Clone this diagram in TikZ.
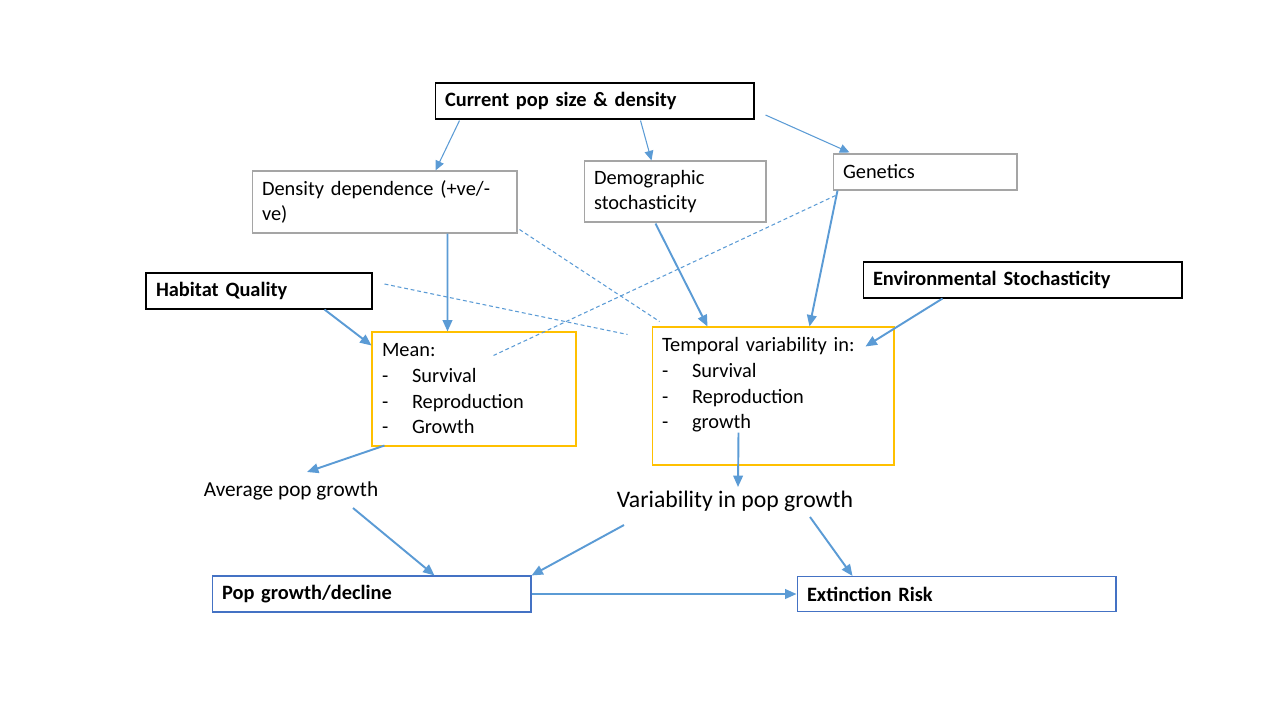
\documentclass[tikz,border=0pt]{standalone}
\usepackage{fontspec}
\setmainfont{Carlito}
\usetikzlibrary{arrows.meta, calc}
\definecolor{linkblue}{HTML}{5B9BD5}
\definecolor{boxgray}{HTML}{A5A5A5}
\definecolor{boxgold}{HTML}{FFC000}
\definecolor{boxblue}{HTML}{4472C4}

\begin{document}
\begin{tikzpicture}[x=0.02cm, y=-0.02cm]
      \tikzstyle{box}=[draw, rectangle, inner xsep=0.2cm, inner ysep=0pt, align=left, line width=0.6pt, font=\fontsize{11.6}{14.6}\selectfont]
      \tikzstyle{keybox}=[box, draw=black, font=\fontsize{11.6}{14.6}\selectfont\bfseries]
      \tikzstyle{factor}=[box, draw=boxgray]
      \tikzstyle{vital}=[box, draw=boxgold]
      \tikzstyle{result}=[keybox, draw=boxblue]
      \tikzstyle{outcome}=[inner sep=1pt]
      \tikzstyle{link}=[draw=linkblue, line width=0.6pt, -{Triangle[length=5.5pt, width=5pt]}]
      \tikzstyle{mainlink}=[draw=linkblue, line width=1.1pt, -{Triangle[length=6.5pt, width=5.5pt]}]
      \tikzstyle{weak}=[draw=linkblue, line width=0.6pt, dash pattern=on 2.2pt off 1.6pt]
      \newcommand{\bul}[1]{\makebox[0.6cm][l]{-}#1}

      \useasboundingbox (0,0) rectangle (1280,720);

      % top level drivers
      \node[keybox, text width=5.98cm, minimum height=0.72cm] (cur) at (594.5,101) {Current pop size \& density};
      \node[keybox, text width=4.12cm, minimum height=0.72cm] (hab) at (259,291) {Habitat Quality};
      \node[keybox, text width=5.98cm, minimum height=0.72cm] (env) at (1022.5,280) {Environmental Stochasticity};

      % second level
      \node[factor, text width=4.9cm, minimum height=1.24cm] (dens) at (384.5,202) {Density dependence (+ve/-\\ve)};
      \node[factor, text width=3.24cm, minimum height=1.22cm] (demo) at (675,191.5) {Demographic\\stochasticity};
      \node[factor, text width=3.28cm, minimum height=0.72cm] (gen) at (925,172) {Genetics};

      % vital rates
      \node[vital, text width=3.68cm, minimum height=2.28cm] (mean) at (474,389)
        {Mean:\\\bul{Survival}\\\bul{Reproduction}\\\bul{Growth}};
      \node[vital, text width=4.44cm, minimum height=2.76cm] (temp) at (773,396)
        {Temporal variability in:\\\bul{Survival}\\\bul{Reproduction}\\\bul{growth}\\\mbox{}};

      \node[outcome, font=\fontsize{12.1}{14.6}\selectfont] (avg) at (291,491) {Average pop growth};
      \node[outcome, font=\fontsize{13.5}{16}\selectfont] (var) at (735,501) {Variability in pop growth};

      % results
      \node[result, text width=5.98cm, minimum height=0.72cm] (popg) at (371.5,594) {Pop growth/decline};
      \node[result, text width=5.98cm, minimum height=0.70cm] (ext) at (956.5,594) {Extinction Risk};

      % from current pop size
      \draw[link] ($(cur.south west)+(25,1)$) -- ($(dens.north west)+(184,0)$);
      \draw[link] ($(cur.south west)+(206,1)$) -- ($(demo.north west)+(68,0)$);
      \draw[link] ($(cur.east)+(11,14)$) -- ($(gen.north west)+(17,-1)$);

      % into vital rates
      \draw[mainlink] ($(dens.south west)+(196,0)$) -- ($(mean.north west)+(76,0)$);
      \draw[mainlink] ($(demo.south west)+(72,1)$) -- ($(temp.north west)+(56,0)$);
      \draw[mainlink] ($(gen.south west)+(5,0)$) -- ($(temp.north west)+(158,0)$);
      \draw[mainlink] ($(hab.south west)+(179,0)$) -- ($(mean.north west)+(0,14)$);
      \draw[mainlink] ($(env.south west)+(80,0)$) -- ($(temp.north west)+(214,20)$);

      % weak links
      \draw[weak] ($(dens.south east)+(2,-4)$) -- ($(temp.north west)+(8,-5)$);
      \draw[weak] ($(hab.east)+(12,-7)$) -- ($(temp.north west)+(-24,8)$);
      \draw[weak] ($(gen.south west)+(3,5)$) -- ($(mean.north west)+(122,24)$);

      % growth
      \draw[mainlink] ($(mean.south west)+(13,-1)$) -- ($(avg.center)+(16,-19)$);
      \draw[mainlink] ($(temp.south west)+(87,-33)$) -- ($(var.center)+(3,-14)$);
      \draw[mainlink] ($(avg.center)+(62,17)$) -- ($(popg.north west)+(223,0)$);
      \draw[mainlink] ($(var.center)+(-111,24)$) -- (popg.north east);
      \draw[mainlink] ($(var.center)+(75,16)$) -- ($(ext.north west)+(56,0)$);
      \draw[mainlink] (popg.east) -- (ext.west);
\end{tikzpicture}
\end{document}
